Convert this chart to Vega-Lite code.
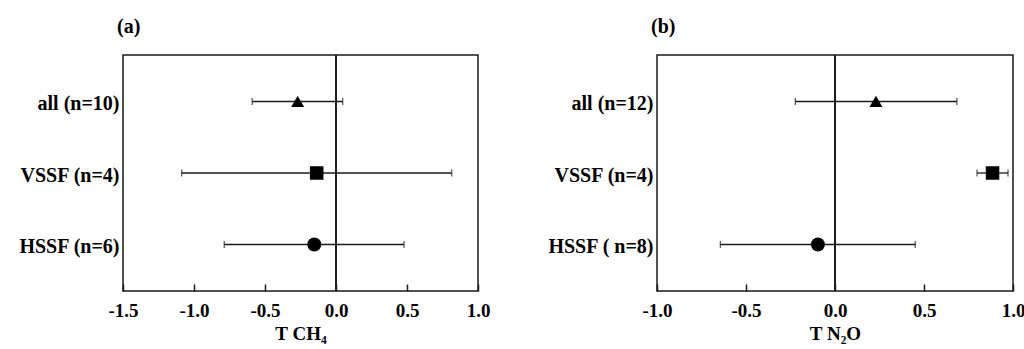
{
  "$schema": "https://vega.github.io/schema/vega-lite/v6.json",
  "padding": {"left": 7, "top": 16, "right": 5, "bottom": 5},
  "bounds": "flush",
  "spacing": 179,
  "config": {
    "font": "Liberation Serif",
    "view": {"stroke": "#1a1a1a", "strokeWidth": 1.5},
    "axis": {"labelColor": "black", "titleColor": "black", "labelFont": "Liberation Serif", "titleFont": "Liberation Serif"}
  },
  "datasets": {
    "ch4": [
      {"label": "all (n=10)", "type": "all", "mean": -0.27, "lo": -0.59, "hi": 0.047},
      {"label": "VSSF (n=4)", "type": "VSSF", "mean": -0.136, "lo": -1.087, "hi": 0.815},
      {"label": "HSSF (n=6)", "type": "HSSF", "mean": -0.153, "lo": -0.787, "hi": 0.479}
    ],
    "n2o": [
      {"label": "all (n=12)", "type": "all", "mean": 0.23, "lo": -0.223, "hi": 0.685},
      {"label": "VSSF (n=4)", "type": "VSSF", "mean": 0.885, "lo": 0.798, "hi": 0.972},
      {"label": "HSSF ( n=8)", "type": "HSSF", "mean": -0.096, "lo": -0.644, "hi": 0.451}
    ]
  },
  "hconcat": [
    {
      "width": 355,
      "height": 236,
      "title": {"text": "(a)", "anchor": "start", "frame": "group", "dx": -6, "offset": 17, "fontSize": 20, "fontWeight": "bold", "font": "Liberation Serif", "color": "black"},
      "data": {"name": "ch4"},
      "encoding": {
        "y": {
          "field": "label", "type": "nominal",
          "sort": ["all (n=10)", "VSSF (n=4)", "HSSF (n=6)"],
          "scale": {"type": "point", "padding": 0.65},
          "axis": {"title": null, "ticks": false, "domain": false, "labelFontSize": 20, "labelFontWeight": "bold", "labelPadding": 4, "labelOffset": 2, "minExtent": 115, "maxExtent": 115}
        }
      },
      "layer": [
        {
          "mark": {"type": "rule", "color": "#1a1a1a", "strokeWidth": 1.5},
          "encoding": {"x": {"datum": 0, "type": "quantitative", "scale": {"domain": [-1.5, 1.0], "nice": false, "zero": false}}, "y": null}
        },
        {
          "mark": {"type": "rule", "color": "#1a1a1a", "strokeWidth": 1.3},
          "encoding": {
            "x": {"field": "lo", "type": "quantitative", "scale": {"domain": [-1.5, 1.0], "nice": false, "zero": false},
              "axis": {"values": [-1.5, -1, -0.5, 0, 0.5, 1], "labelExpr": "replace(format(datum.value, '.1f'), '\u2212', '-')", "offset": -7, "tickSize": 7, "tickColor": "#1a1a1a", "tickWidth": 1.5, "domain": false, "grid": false, "labelFontSize": 19, "labelFontWeight": "bold", "labelPadding": 10, "labelOverlap": false, "labelFlush": false, "title": "T CH\u2084", "titleFontSize": 19, "titleFontWeight": "bold", "titlePadding": 4}},
            "x2": {"field": "hi"}
          }
        },
        {
          "mark": {"type": "tick", "orient": "vertical", "size": 7, "thickness": 1.3, "color": "#1a1a1a"},
          "encoding": {"x": {"field": "lo", "type": "quantitative"}}
        },
        {
          "mark": {"type": "tick", "orient": "vertical", "size": 7, "thickness": 1.3, "color": "#1a1a1a"},
          "encoding": {"x": {"field": "hi", "type": "quantitative"}}
        },
        {
          "mark": {"type": "point", "filled": true, "color": "black", "opacity": 1},
          "encoding": {
            "x": {"field": "mean", "type": "quantitative"},
            "shape": {"field": "type", "type": "nominal", "scale": {"domain": ["all", "VSSF", "HSSF"], "range": ["triangle-up", "square", "circle"]}, "legend": null},
            "size": {"field": "type", "type": "nominal", "scale": {"domain": ["all", "VSSF", "HSSF"], "range": [169, 196, 225]}, "legend": null}
          }
        }
      ]
    },
    {
      "width": 356,
      "height": 236,
      "title": {"text": "(b)", "anchor": "start", "frame": "group", "dx": -6, "offset": 17, "fontSize": 20, "fontWeight": "bold", "font": "Liberation Serif", "color": "black"},
      "data": {"name": "n2o"},
      "encoding": {
        "y": {
          "field": "label", "type": "nominal",
          "sort": ["all (n=12)", "VSSF (n=4)", "HSSF ( n=8)"],
          "scale": {"type": "point", "padding": 0.65},
          "axis": {"title": null, "ticks": false, "domain": false, "labelFontSize": 20, "labelFontWeight": "bold", "labelPadding": 4, "labelOffset": 2, "minExtent": 115, "maxExtent": 115}
        }
      },
      "layer": [
        {
          "mark": {"type": "rule", "color": "#1a1a1a", "strokeWidth": 1.5},
          "encoding": {"x": {"datum": 0, "type": "quantitative", "scale": {"domain": [-1.0, 1.0], "nice": false, "zero": false}}, "y": null}
        },
        {
          "mark": {"type": "rule", "color": "#1a1a1a", "strokeWidth": 1.3},
          "encoding": {
            "x": {"field": "lo", "type": "quantitative", "scale": {"domain": [-1.0, 1.0], "nice": false, "zero": false},
              "axis": {"values": [-1, -0.5, 0, 0.5, 1], "labelExpr": "replace(format(datum.value, '.1f'), '\u2212', '-')", "offset": -7, "tickSize": 7, "tickColor": "#1a1a1a", "tickWidth": 1.5, "domain": false, "grid": false, "labelFontSize": 19, "labelFontWeight": "bold", "labelPadding": 10, "labelOverlap": false, "labelFlush": false, "title": "T N\u2082O", "titleFontSize": 19, "titleFontWeight": "bold", "titlePadding": 4}},
            "x2": {"field": "hi"}
          }
        },
        {
          "mark": {"type": "tick", "orient": "vertical", "size": 7, "thickness": 1.3, "color": "#1a1a1a"},
          "encoding": {"x": {"field": "lo", "type": "quantitative"}}
        },
        {
          "mark": {"type": "tick", "orient": "vertical", "size": 7, "thickness": 1.3, "color": "#1a1a1a"},
          "encoding": {"x": {"field": "hi", "type": "quantitative"}}
        },
        {
          "mark": {"type": "point", "filled": true, "color": "black", "opacity": 1},
          "encoding": {
            "x": {"field": "mean", "type": "quantitative"},
            "shape": {"field": "type", "type": "nominal", "scale": {"domain": ["all", "VSSF", "HSSF"], "range": ["triangle-up", "square", "circle"]}, "legend": null},
            "size": {"field": "type", "type": "nominal", "scale": {"domain": ["all", "VSSF", "HSSF"], "range": [169, 196, 225]}, "legend": null}
          }
        }
      ]
    }
  ]
}
